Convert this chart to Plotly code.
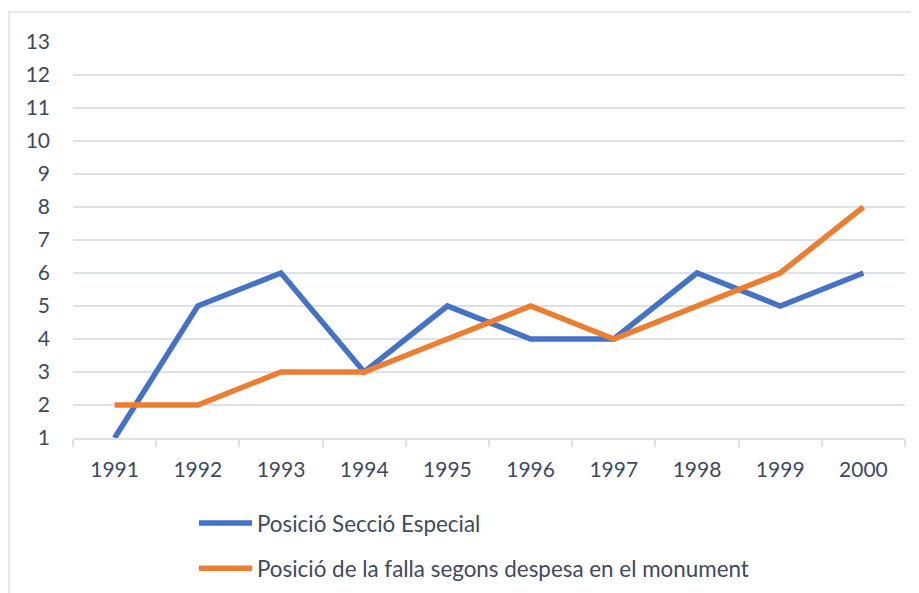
import plotly.graph_objects as go

years = ["1991", "1992", "1993", "1994", "1995", "1996", "1997", "1998", "1999", "2000"]
seccio_especial = [1, 5, 6, 3, 5, 4, 4, 6, 5, 6]
despesa_monument = [2, 2, 3, 3, 4, 5, 4, 5, 6, 8]
y_ticks = list(range(1, 14))

FONT = "Lato, 'Open Sans', sans-serif"
TXT = "#3E4A5D"
GRID = "#DDE1E8"

fig = go.Figure()
fig.add_trace(go.Scatter(
    x=years, y=seccio_especial, mode="lines", name="Posició Secció Especial",
    line=dict(color="#4472C4", width=5.5), legendgroup="a"))
fig.add_trace(go.Scatter(
    x=years, y=despesa_monument, mode="lines",
    name="Posició de la falla segons despesa en el monument",
    line=dict(color="#ED7D31", width=5.5), legendgroup="b"))

# page body has an 8px margin, so figure coordinates are offset by 8px
W, H = 911, 585
L, R, T, B = 65, 14, 34, 155
pw, ph = W - L - R, H - T - B

def px_x(p):
    return (p - L) / pw

def px_y(p):
    return (H - B - p) / ph

fig.update_layout(
    width=W, height=H,
    margin=dict(l=L, r=R, t=T, b=B, autoexpand=False),
    paper_bgcolor="white", plot_bgcolor="white",
    font=dict(family=FONT, size=21, color=TXT),
    showlegend=True,
    legend=dict(
        orientation="v", xref="container", yref="container",
        x=186 / W, y=1 - 494 / H, xanchor="left", yanchor="top",
        font=dict(size=22.4, color=TXT), tracegroupgap=13, itemwidth=53,
        bgcolor="rgba(0,0,0,0)"),
    xaxis=dict(
        type="category", tickson="boundaries", range=[-0.5, 9.5], automargin=False,
        showgrid=False, showline=True, linecolor=GRID, linewidth=2,
        ticks="outside", ticklen=7, tickcolor=GRID, tickwidth=2,
        ticklabelstandoff=12, zeroline=False),
    yaxis=dict(
        range=[1, 13], tickvals=y_ticks, showgrid=True, gridcolor=GRID, gridwidth=2,
        automargin=False, showline=False, zeroline=False, ticks="", ticklabelstandoff=22),
    shapes=[dict(
        type="rect", xref="paper", yref="paper",
        x0=px_x(1), x1=px_x(925), y0=px_y(600), y1=px_y(4),
        line=dict(color="#DDE1E8", width=1.5), fillcolor="rgba(0,0,0,0)", layer="below")],
)

fig.write_html("out.html")
